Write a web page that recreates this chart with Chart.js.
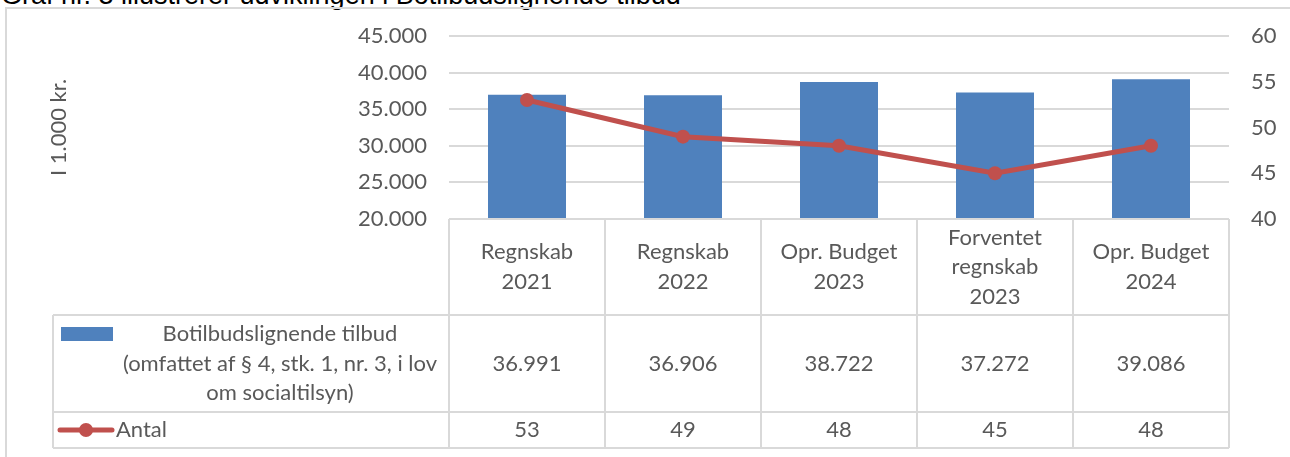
<!DOCTYPE html>
<html>
<head>
<meta charset="utf-8">
<script src="https://cdn.jsdelivr.net/npm/chart.js@4/dist/chart.umd.min.js"></script>
<style>
  html, body { margin: 0; padding: 0; background: #fff; overflow: hidden; }
  #wrap { position: relative; width: 1290px; height: 457px; }
  #frame { position: absolute; left: 5px; top: 7px; width: 1300px; height: 470px; border: 2px solid #D9D9D9; box-sizing: border-box; }
  #caption { position: absolute; left: 1px; top: -18px; font-family: 'Liberation Sans', Arial, sans-serif; font-size: 27px; line-height: 27px; color: #000; white-space: nowrap; }
  canvas { position: absolute; left: 0; top: 0; }
</style>
</head>
<body>
<div id="wrap">
  <div id="caption">Graf nr. 3 illustrerer udviklingen i Botilbudslignende tilbud</div>
  <div id="frame"></div>
  <canvas id="c" width="1290" height="457"></canvas>
</div>
<script>
// ---- data ----
const categories = [
  ['Regnskab', '2021'],
  ['Regnskab', '2022'],
  ['Opr. Budget', '2023'],
  ['Forventet', 'regnskab', '2023'],
  ['Opr. Budget', '2024']
];
const barName = ['Botilbudslignende tilbud', '(omfattet af § 4, stk. 1, nr. 3, i lov', 'om socialtilsyn)'];
const lineName = 'Antal';
const barValues = [36991, 36906, 38722, 37272, 39086];
const lineValues = [53, 49, 48, 45, 48];
const leftTicks = [20000, 25000, 30000, 35000, 40000, 45000];
const rightTicks = [40, 45, 50, 55, 60];
const yAxisTitle = 'I 1.000 kr.';

const BLUE = '#4F81BD', RED = '#C0504D', TXT = '#595959', GRID = '#D9D9D9';
const FONT = 'Lato';
const FS = 22;

function fmt(v) { return String(v).replace(/\B(?=(\d{3})+(?!\d))/g, '.'); }

const tablePlugin = {
  id: 'dataTable',
  afterDraw(chart) {
    const ctx = chart.ctx;
    const xs = chart.scales.x;
    const ca = chart.chartArea;
    const n = categories.length;
    const colW = (ca.right - ca.left) / n;
    const top = ca.bottom;           // 219
    const r1 = 315, r2 = 412, bot = 448;
    const tLeft = 53;
    const lh = 29.5;
    ctx.save();
    ctx.strokeStyle = GRID;
    ctx.lineWidth = 2;
    ctx.beginPath();
    ctx.moveTo(ca.left, top); ctx.lineTo(ca.right, top);
    [r1, r2, bot].forEach(y => { ctx.moveTo(tLeft, y); ctx.lineTo(ca.right, y); });
    for (let i = 0; i <= n; i++) {
      const x = ca.left + i * colW;
      ctx.moveTo(x, top); ctx.lineTo(x, bot);
    }
    ctx.moveTo(tLeft, r1); ctx.lineTo(tLeft, bot);
    ctx.stroke();

    ctx.fillStyle = TXT;
    ctx.font = FS + 'px ' + FONT;
    ctx.textAlign = 'center';
    ctx.textBaseline = 'middle';
    categories.forEach((lines, i) => {
      const cx = xs.getPixelForValue(i);
      const cy = (top + r1) / 2;
      lines.forEach((t, k) => {
        ctx.fillText(t, cx, cy + (k - (lines.length - 1) / 2) * lh);
      });
      ctx.fillText(fmt(barValues[i]), cx, (r1 + r2) / 2);
      ctx.fillText(String(lineValues[i]), cx, (r2 + bot) / 2);
    });
    const cy1 = (r1 + r2) / 2;
    barName.forEach((t, k) => {
      ctx.fillText(t, 280, cy1 + (k - (barName.length - 1) / 2) * lh);
    });
    ctx.fillStyle = BLUE;
    ctx.fillRect(61, 327, 52, 14);
    const cy2 = (r2 + bot) / 2;
    ctx.strokeStyle = RED;
    ctx.lineWidth = 5;
    ctx.lineCap = 'round';
    ctx.beginPath();
    ctx.moveTo(60, cy2); ctx.lineTo(112, cy2);
    ctx.stroke();
    ctx.fillStyle = RED;
    ctx.beginPath();
    ctx.arc(86, cy2, 7, 0, Math.PI * 2);
    ctx.fill();
    ctx.fillStyle = TXT;
    ctx.textAlign = 'left';
    ctx.fillText(lineName, 116, cy2);
    ctx.restore();
  }
};

Chart.defaults.font.family = FONT;
Chart.defaults.font.size = FS;
Chart.defaults.color = TXT;

new Chart(document.getElementById('c'), {
  type: 'bar',
  data: {
    labels: categories.map(c => c.join(' ')),
    datasets: [
      {
        type: 'line',
        label: lineName,
        data: lineValues,
        yAxisID: 'y1',
        borderColor: RED,
        backgroundColor: RED,
        borderWidth: 5,
        pointRadius: 7,
        pointBackgroundColor: RED,
        pointBorderWidth: 0,
        tension: 0,
        order: 1
      },
      {
        type: 'bar',
        label: barName.join(' '),
        data: barValues,
        yAxisID: 'y',
        backgroundColor: BLUE,
        borderWidth: 0,
        categoryPercentage: 0.5,
        barPercentage: 1,
        order: 2
      }
    ]
  },
  options: {
    responsive: false,
    animation: false,
    layout: { padding: { left: 40, top: 36, right: 0, bottom: 238 } },
    plugins: { legend: { display: false }, tooltip: { enabled: false } },
    scales: {
      x: { display: false },
      y: {
        position: 'left',
        min: leftTicks[0], max: leftTicks[leftTicks.length - 1],
        afterBuildTicks: s => { s.ticks = leftTicks.map(v => ({ value: v })); },
        afterFit: s => { s.width = 409; },
        ticks: { padding: 22, color: TXT, font: { size: FS }, callback: v => fmt(v) },
        grid: { color: GRID, lineWidth: 2, drawTicks: false },
        border: { display: false },
        title: { display: true, text: yAxisTitle, color: TXT, font: { size: FS }, padding: { top: 6, bottom: 0 } }
      },
      y1: {
        position: 'right',
        min: rightTicks[0], max: rightTicks[rightTicks.length - 1],
        afterBuildTicks: s => { s.ticks = rightTicks.map(v => ({ value: v })); },
        afterFit: s => { s.width = 61; },
        ticks: { padding: 22, color: TXT, font: { size: FS } },
        grid: { display: false, drawTicks: false },
        border: { display: false }
      }
    }
  },
  plugins: [tablePlugin]
});
</script>
</body>
</html>
